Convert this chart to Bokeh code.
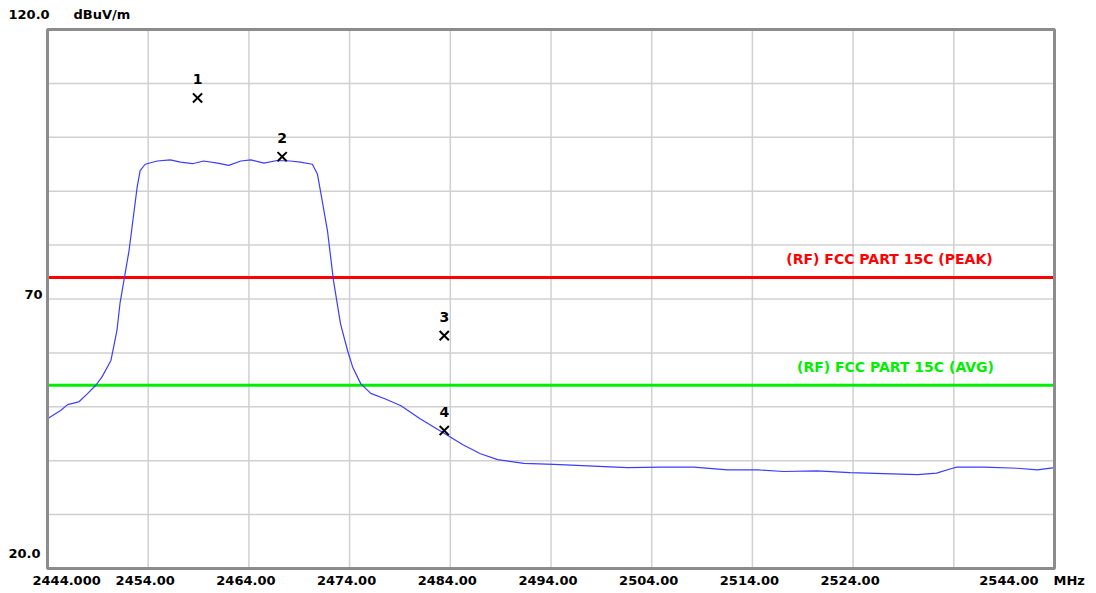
from bokeh.plotting import figure
from bokeh.models import Label, Range1d
from bokeh.embed import file_html
from bokeh.resources import INLINE

# ---- data ----
freq = [2444.0, 2445.3, 2446.0, 2447.1, 2447.9, 2448.8, 2449.4, 2450.3, 2450.9, 2451.2,
        2452.1, 2452.9, 2453.2, 2453.7, 2454.9, 2456.2, 2457.2, 2458.4, 2459.5, 2460.9,
        2462.0, 2463.2, 2464.2, 2465.5, 2466.8, 2468.1, 2469.1, 2470.3, 2470.8, 2471.1,
        2471.8, 2472.4, 2473.1, 2473.8, 2474.3, 2475.1, 2476.1, 2477.5, 2479.1, 2481.0,
        2483.3, 2485.3, 2487.0, 2488.7, 2491.3, 2494.3, 2498.2, 2501.6, 2504.9, 2508.2,
        2511.5, 2514.5, 2517.1, 2520.4, 2523.7, 2527.0, 2530.4, 2532.3, 2533.7, 2534.3,
        2537.0, 2540.3, 2542.3, 2544.0]
level = [47.8, 49.3, 50.4, 50.9, 52.3, 54.0, 55.5, 58.6, 64.2, 69.2,
         79.0, 90.7, 93.8, 95.0, 95.6, 95.8, 95.4, 95.1, 95.6, 95.2,
         94.8, 95.6, 95.8, 95.2, 95.7, 95.6, 95.4, 95.0, 93.2, 90.1,
         82.7, 73.4, 65.4, 60.4, 57.4, 54.3, 52.5, 51.5, 50.2, 47.8,
         45.2, 42.9, 41.3, 40.2, 39.5, 39.3, 39.0, 38.7, 38.8, 38.8,
         38.3, 38.3, 38.0, 38.1, 37.8, 37.6, 37.4, 37.7, 38.5, 38.8,
         38.8, 38.6, 38.3, 38.7]

marker_ids = ["1", "2", "3", "4"]
marker_freq = [2458.9, 2467.3, 2483.4, 2483.4]
marker_level = [107.3, 96.4, 63.2, 45.6]

limit_peak = 74
limit_avg = 54
limit_peak_label = "(RF) FCC PART 15C (PEAK)"
limit_avg_label = "(RF) FCC PART 15C (AVG)"

x_ticks = [2444, 2454, 2464, 2474, 2484, 2494, 2504, 2514, 2524, 2534, 2544]
x_tick_labels = ["2444.000", "2454.00", "2464.00", "2474.00", "2484.00", "2494.00",
                 "2504.00", "2514.00", "2524.00", "", "2544.00"]
y_ticks = [20, 30, 40, 50, 60, 70, 80, 90, 100, 110, 120]
y_tick_labels = {120: "120.0", 70: "70", 20: "20.0"}
y_unit = "dBuV/m"
x_unit = "MHz"

FONT = "DejaVu Sans"

# ---- layout: the whole canvas is the frame; the chart box is drawn inside ----
W, H = 1096, 593
BOX_L, BOX_R, BOX_T, BOX_B = 47, 1054, 29, 568
x0, x1 = x_ticks[0], x_ticks[-1]
y0, y1 = y_ticks[0], y_ticks[-1]
xs = (x1 - x0) / (BOX_R - BOX_L)
ys = (y1 - y0) / (BOX_B - BOX_T)
x_range = Range1d(x0 - BOX_L * xs, x1 + (W - BOX_R) * xs)
y_range = Range1d(y0 - (H - BOX_B) * ys, y1 + BOX_T * ys)

p = figure(width=W, height=H, x_range=x_range, y_range=y_range,
           x_axis_location=None, y_axis_location=None,
           output_backend="svg", toolbar_location=None,
           min_border=0, min_border_left=0, min_border_right=0,
           min_border_top=0, min_border_bottom=0)
p.grid.visible = False
p.background_fill_color = "white"
p.border_fill_color = "white"
p.outline_line_color = None

GRID = "#d0d0d0"
# grid
p.segment(x0=x_ticks[1:-1], y0=[y0] * (len(x_ticks) - 2),
          x1=x_ticks[1:-1], y1=[y1] * (len(x_ticks) - 2),
          line_color=GRID, line_width=1.5)
p.segment(x0=[x0] * (len(y_ticks) - 2), y0=y_ticks[1:-1],
          x1=[x1] * (len(y_ticks) - 2), y1=y_ticks[1:-1],
          line_color=GRID, line_width=1.5)

# limit lines
p.segment(x0=[x0], y0=[limit_peak], x1=[x1], y1=[limit_peak],
          line_color="#ff0000", line_width=3)
p.segment(x0=[x0], y0=[limit_avg], x1=[x1], y1=[limit_avg],
          line_color="#00ee00", line_width=3)

# trace
p.line(freq, level, line_color="#3c3cff", line_width=1.2)

# chart box
p.quad(left=[x0], right=[x1], bottom=[y0], top=[y1], fill_color=None,
       line_color="#8c8c8c", line_width=3)

# markers
p.scatter(marker_freq, marker_level, marker="x", size=13,
          line_color="black", line_width=2)
for mid, mf, ml in zip(marker_ids, marker_freq, marker_level):
    p.add_layout(Label(x=mf, y=ml, text=mid, y_offset=19, text_align="center",
                       text_baseline="middle", text_font=FONT,
                       text_font_style="bold", text_font_size="14px",
                       text_color="black"))

# limit labels
p.add_layout(Label(x=x1, y=limit_peak, text=limit_peak_label,
                   x_offset=-165, y_offset=18, text_align="center",
                   text_baseline="middle", text_font=FONT,
                   text_font_style="bold", text_font_size="14px",
                   text_color="#ff0000"))
p.add_layout(Label(x=x1, y=limit_avg, text=limit_avg_label,
                   x_offset=-159, y_offset=18, text_align="center",
                   text_baseline="middle", text_font=FONT,
                   text_font_style="bold", text_font_size="14px",
                   text_color="#00ee00"))

# x tick labels
for i, (t, lab) in enumerate(zip(x_ticks, x_tick_labels)):
    if not lab:
        continue
    if i == 0:
        align, xo = "left", -15
    elif i == len(x_ticks) - 1:
        align, xo = "right", -16
    else:
        align, xo = "center", -3
    p.add_layout(Label(x=t, y=y0, text=lab, x_offset=xo, y_offset=-12,
                       text_align=align, text_baseline="middle", text_font=FONT,
                       text_font_style="bold", text_font_size="13px",
                       text_color="black"))
p.add_layout(Label(x=x1, y=y0, text=x_unit, x_offset=-1,
                   y_offset=-12, text_align="left", text_baseline="middle",
                   text_font=FONT, text_font_style="bold", text_font_size="13px",
                   text_color="black"))

# y tick labels
for t, lab in y_tick_labels.items():
    if t == 70:
        align, xo, yo = "right", -5, 5
    else:
        align, xo, yo = "left", -39, 15
    p.add_layout(Label(x=x0, y=t, text=lab, x_offset=xo, y_offset=yo,
                       text_align=align, text_baseline="middle", text_font=FONT,
                       text_font_style="bold", text_font_size="13px",
                       text_color="black"))
p.add_layout(Label(x=x0, y=y1, text=y_unit, x_offset=26,
                   y_offset=15, text_align="left", text_baseline="middle",
                   text_font=FONT, text_font_style="bold", text_font_size="13px",
                   text_color="black"))

open("out.html", "w").write(file_html(p, INLINE))
